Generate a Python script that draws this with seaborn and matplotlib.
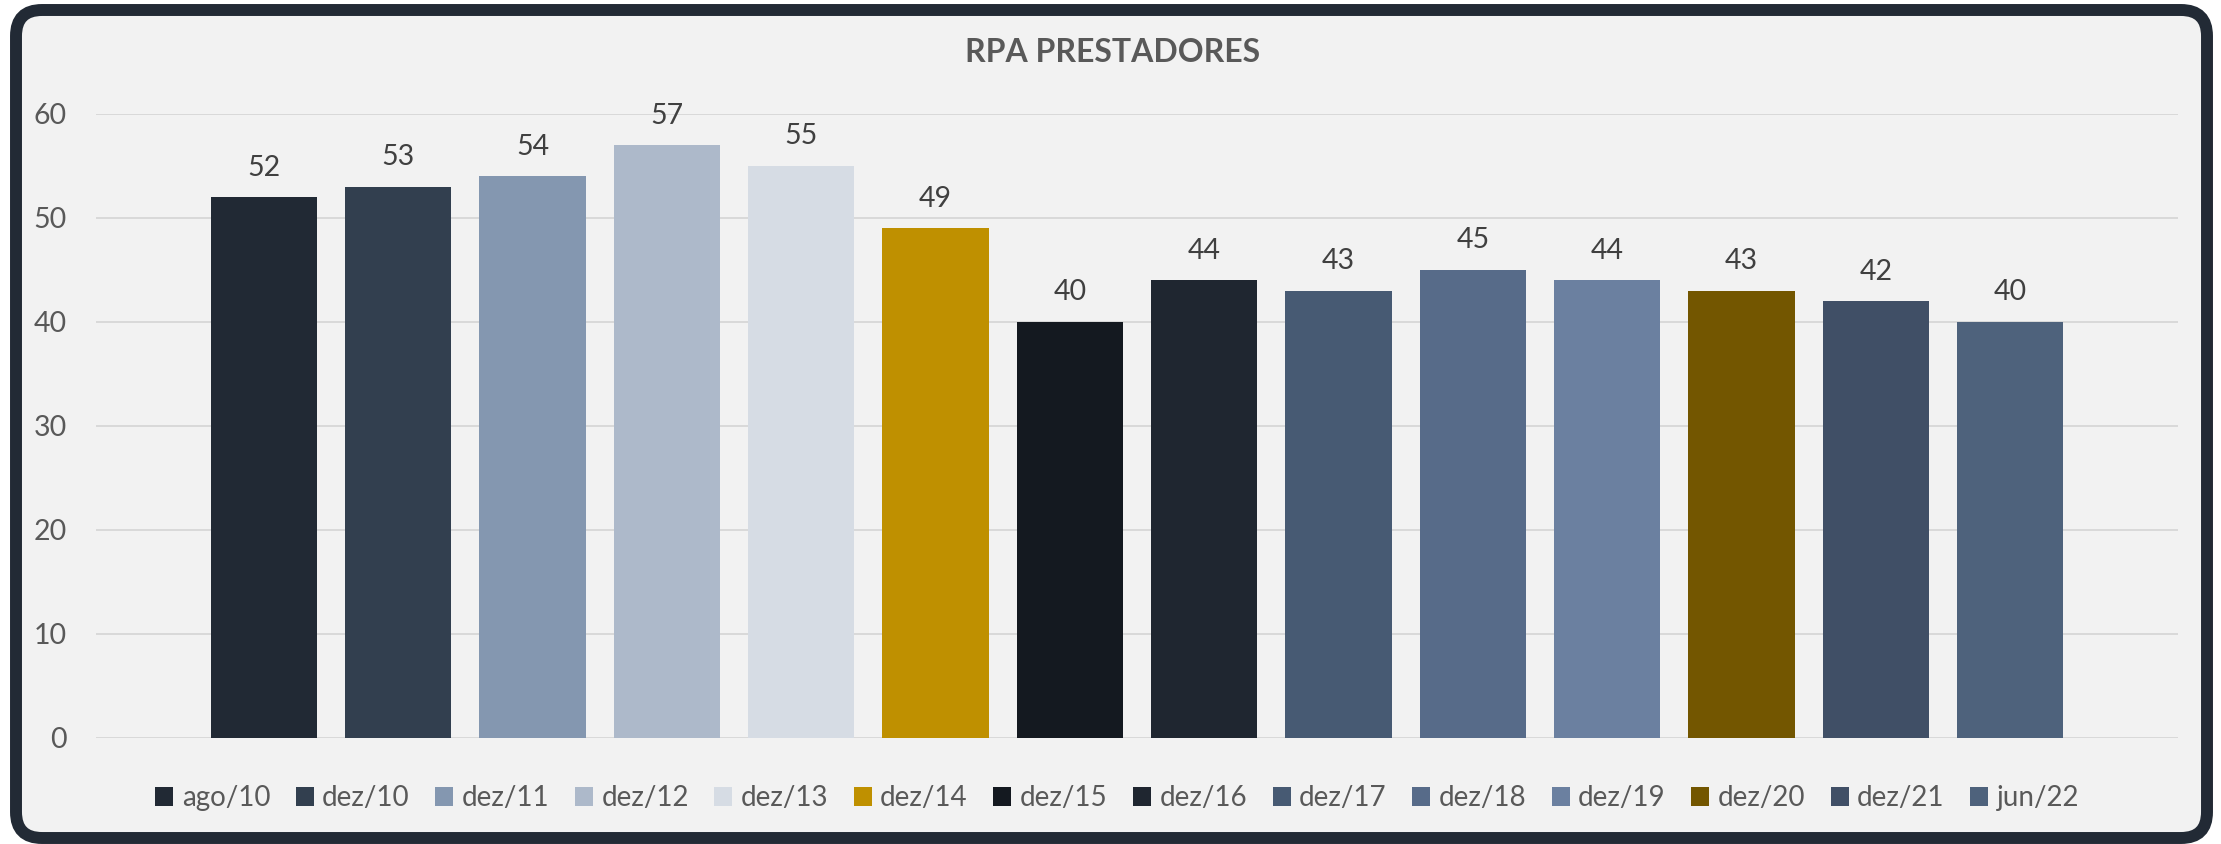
import matplotlib
matplotlib.use("Agg")
import matplotlib.pyplot as plt
import seaborn as sns
import pandas as pd
from matplotlib.patches import FancyBboxPatch, Patch

# -----------------------------
# Data
# -----------------------------
periods = ["ago/10", "dez/10", "dez/11", "dez/12", "dez/13", "dez/14", "dez/15",
           "dez/16", "dez/17", "dez/18", "dez/19", "dez/20", "dez/21", "jun/22"]
values = [52, 53, 54, 57, 55, 49, 40, 44, 43, 45, 44, 43, 42, 40]
colors = ["#212934", "#323f4f", "#8497b0", "#adb9ca", "#d6dce4", "#bf9000", "#141920",
          "#1f2630", "#475a73", "#576b89", "#6b80a0", "#735600", "#404f66", "#4e627c"]
yticks = [0, 10, 20, 30, 40, 50, 60]

df = pd.DataFrame({"period": periods, "value": values})

# -----------------------------
# Figure
# -----------------------------
sns.set_theme(style="white")
plt.rcParams["font.family"] = ["Lato", "DejaVu Sans"]

W, H, DPI = 2221, 844, 100
fig = plt.figure(figsize=(W / DPI, H / DPI), dpi=DPI, facecolor="white")

# rounded frame drawn in pixel space
bg = fig.add_axes([0, 0, 1, 1], zorder=0)
bg.set_xlim(0, W)
bg.set_ylim(H, 0)
bg.axis("off")
frame = FancyBboxPatch((16, 10), 2191, 828,
                       boxstyle="round,pad=0,rounding_size=26",
                       facecolor="#f2f2f2", edgecolor="#222a35", linewidth=8.6)
bg.add_patch(frame)

ax = fig.add_axes([96 / W, 1 - 738 / H, (2178 - 96) / W, (738 - 114) / H], zorder=1)
ax.set_facecolor("none")

sns.barplot(data=df, x="period", y="value", hue="period", palette=colors,
            width=0.79, legend=False, ax=ax, saturation=1, linewidth=0, zorder=3)

for c in ax.containers:
    ax.bar_label(c, padding=12, fontsize=20.5, color="#404040")

ax.set_ylim(0, 60)
ax.set_xlim(-1.25, len(periods) + 0.25)
ax.set_yticks(yticks)
ax.set_yticklabels([str(t) for t in yticks], fontsize=20.5, color="#595959")
ax.set_xticks([])
ax.tick_params(axis="y", length=0, pad=21)
ax.grid(axis="y", color="#d9d9d9", linewidth=1.4, zorder=0)
ax.set_axisbelow(True)
for s in ax.spines.values():
    s.set_visible(False)
ax.set_xlabel("")
ax.set_ylabel("")

fig.text(0.501, 1 - 53 / H, "RPA PRESTADORES", ha="center", va="center",
         fontsize=23, fontweight="bold", color="#595959")

handles = [Patch(facecolor=c, edgecolor="none") for c in colors]
fig.legend(handles, periods, loc="center", bbox_to_anchor=(0.503, 1 - 798 / H),
           ncol=len(periods), frameon=False, fontsize=20,
           handlelength=0.65, handleheight=0.65, handletextpad=0.3,
           columnspacing=0.92, labelcolor="#595959")

fig.savefig("out.png", dpi=DPI, facecolor="white")
